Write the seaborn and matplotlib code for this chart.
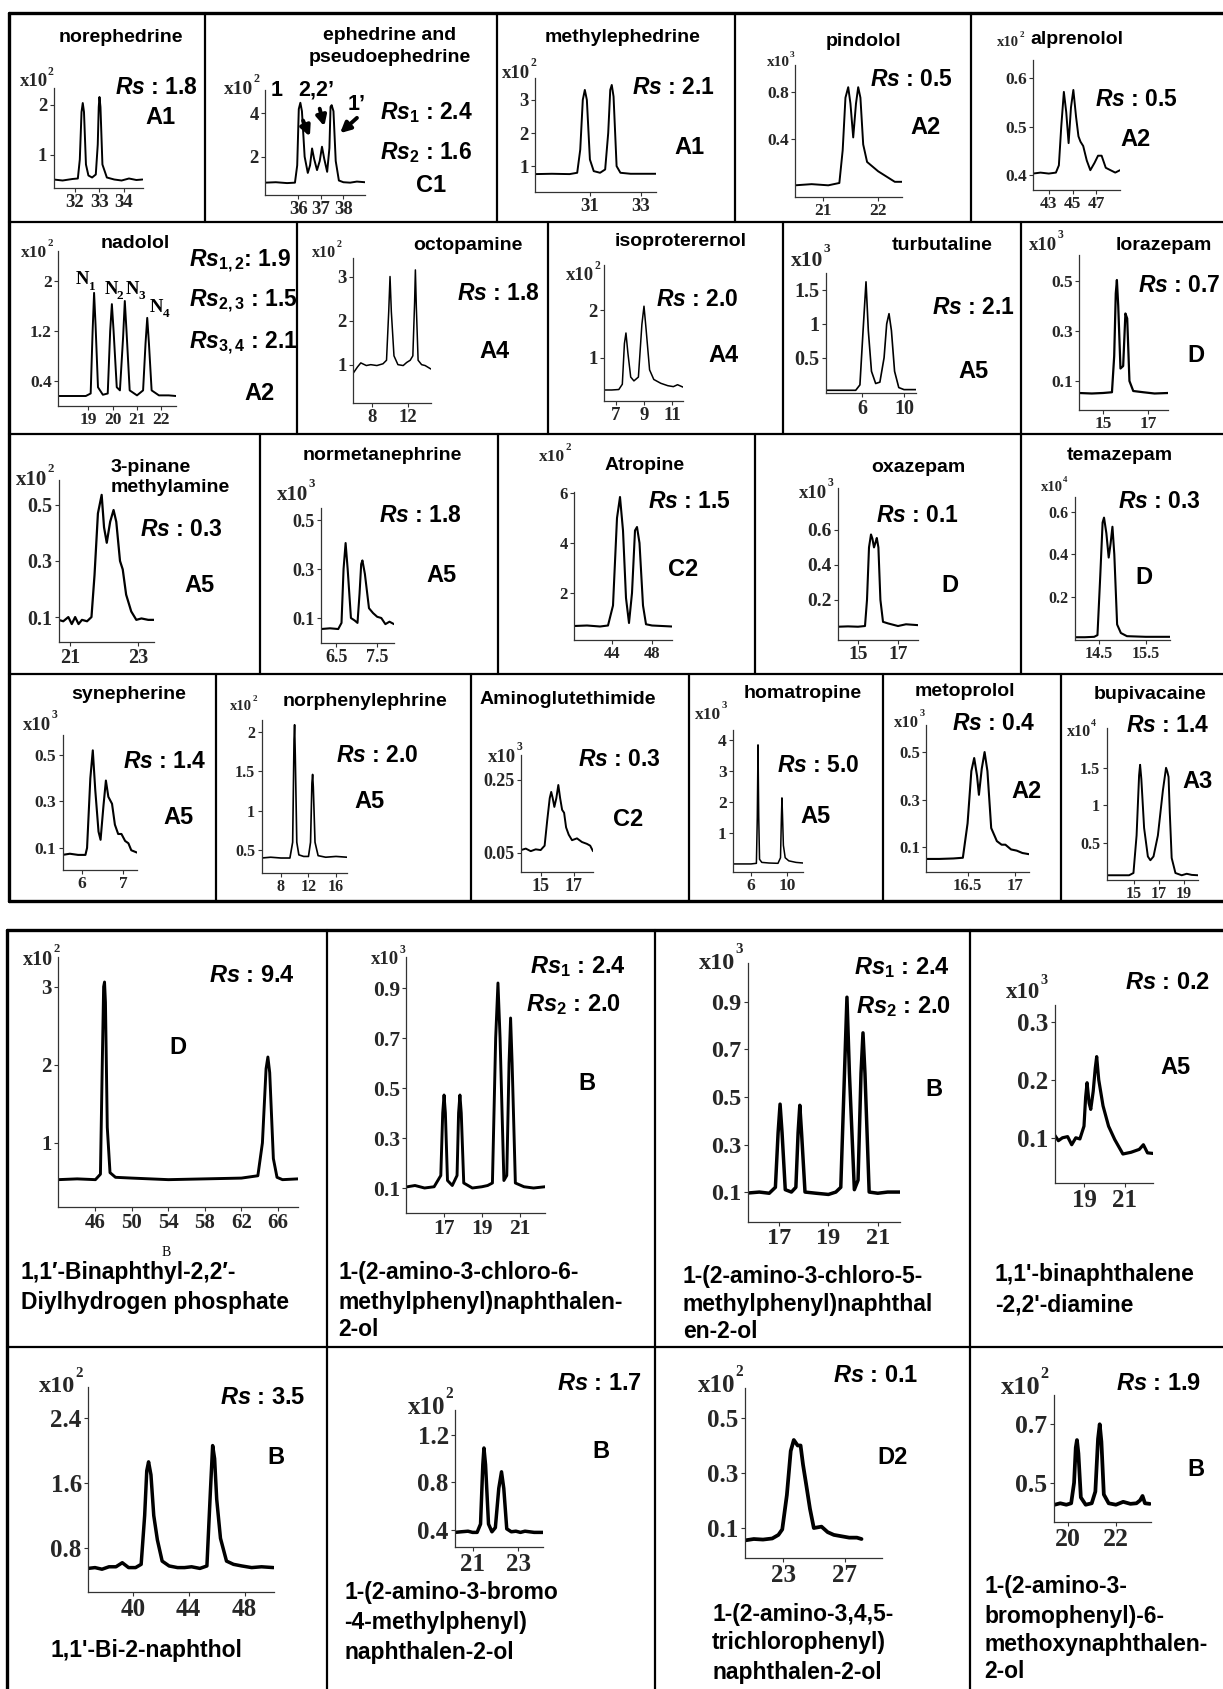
import matplotlib
matplotlib.use("Agg")
import matplotlib.pyplot as plt
import seaborn as sns
from matplotlib.lines import Line2D
from matplotlib.patches import FancyArrowPatch
from matplotlib.ticker import AutoMinorLocator

W, H = 1223, 1689

# chromatogram traces: retention time (min) and signal

nore_t = [31.13, 31.5, 31.9, 32.12, 32.2, 32.27, 32.32, 32.37, 32.45, 32.55, 32.7, 32.85, 32.93, 32.97, 33.0, 33.04, 33.12, 33.3, 33.6, 33.9, 34.2, 34.5, 34.75]
nore_y = [0.5, 0.48, 0.51, 0.52, 0.9, 1.85, 2.03, 1.85, 0.8, 0.58, 0.54, 0.6, 1.2, 1.95, 2.15, 1.95, 0.8, 0.54, 0.5, 0.48, 0.52, 0.49, 0.5]
nore_xt = ["32", "33", "34"]
nore_yt = ["1", "2"]

ephe_t = [34.52, 35.0, 35.5, 35.85, 35.95, 36.02, 36.09, 36.16, 36.28, 36.42, 36.52, 36.61, 36.7, 36.83, 36.95, 37.05, 37.15, 37.28, 37.38, 37.43, 37.48, 37.56, 37.66, 37.8, 38.0, 38.3, 38.6, 38.96]
ephe_y = [0.8, 0.82, 0.78, 0.8, 1.6, 4.2, 4.49, 4.1, 2.0, 1.25, 1.6, 2.38, 1.9, 1.38, 1.8, 2.46, 1.9, 1.3, 2.4, 4.3, 4.38, 4.1, 1.8, 0.9, 0.82, 0.8, 0.85, 0.82]
ephe_xt = ["36", "37", "38"]
ephe_yt = ["2", "4"]

meth_t = [28.84, 29.5, 30.2, 30.5, 30.62, 30.72, 30.8, 30.88, 31.0, 31.15, 31.4, 31.6, 31.72, 31.8, 31.86, 31.93, 32.05, 32.2, 32.6, 33.0, 33.6]
meth_y = [0.76, 0.77, 0.76, 0.8, 1.5, 3.0, 3.3, 3.0, 1.2, 0.85, 0.8, 0.9, 2.0, 3.3, 3.45, 3.1, 1.0, 0.8, 0.77, 0.77, 0.77]
meth_xt = ["31", "33"]
meth_yt = ["1", "2", "3"]

pind_t = [20.5, 20.8, 21.1, 21.3, 21.36, 21.41, 21.46, 21.5, 21.55, 21.6, 21.64, 21.68, 21.73, 21.8, 21.9, 22.0, 22.1, 22.2, 22.3, 22.43]
pind_y = [0.0, 0.01, 0.0, 0.02, 0.3, 0.75, 0.84, 0.7, 0.41, 0.7, 0.84, 0.75, 0.35, 0.2, 0.16, 0.12, 0.09, 0.06, 0.03, 0.03]
pind_xt = ["21", "22"]
pind_yt = ["0.4", "0.8"]

alpr_t = [41.67, 42.3, 43.0, 43.6, 43.85, 44.05, 44.27, 44.47, 44.67, 44.87, 45.07, 45.3, 45.5, 45.67, 45.9, 46.2, 46.5, 46.85, 47.15, 47.45, 47.8, 48.2, 48.6, 49.0]
alpr_y = [0.403, 0.405, 0.403, 0.405, 0.42, 0.5, 0.572, 0.53, 0.466, 0.54, 0.576, 0.52, 0.48, 0.469, 0.46, 0.43, 0.41, 0.425, 0.44, 0.44, 0.415, 0.41, 0.405, 0.41]
alpr_xt = ["43", "45", "47"]
alpr_yt = ["0.4", "0.5", "0.6"]

nado_t = [17.76, 18.3, 18.9, 19.1, 19.18, 19.24, 19.3, 19.4, 19.6, 19.8, 19.9, 19.97, 20.04, 20.17, 20.3, 20.43, 20.5, 20.57, 20.7, 21.0, 21.25, 21.35, 21.42, 21.49, 21.6, 21.9, 22.3, 22.6]
nado_y = [0.16, 0.16, 0.16, 0.2, 1.2, 1.81, 1.3, 0.3, 0.18, 0.2, 1.2, 1.63, 1.2, 0.3, 0.25, 1.1, 1.68, 1.2, 0.25, 0.17, 0.25, 1.0, 1.41, 1.0, 0.25, 0.17, 0.17, 0.16]
nado_xt = ["19", "20", "21", "22"]
nado_yt = ["0.4", "1.2", "2"]

octo_t = [5.78, 6.3, 6.67, 7.3, 7.8, 8.5, 9.2, 9.6, 9.85, 10.0, 10.15, 10.45, 10.9, 11.5, 11.9, 12.3, 12.6, 12.8, 12.89, 13.0, 13.2, 13.6, 14.0, 14.67]
octo_y = [0.8, 0.95, 1.04, 0.98, 1.0, 0.98, 1.02, 1.1, 2.2, 3.0, 2.2, 1.2, 1.0, 0.98, 1.05, 1.1, 1.2, 2.4, 3.15, 2.3, 1.1, 1.0, 0.98, 0.9]
octo_xt = ["8", "12"]
octo_yt = ["1", "2", "3"]

isop_t = [6.14, 6.7, 7.2, 7.45, 7.6, 7.71, 7.85, 8.05, 8.28, 8.6, 8.85, 9.0, 9.15, 9.4, 9.7, 10.2, 10.7, 11.1, 11.4, 11.79]
isop_y = [0.33, 0.33, 0.34, 0.45, 1.3, 1.52, 1.1, 0.6, 0.52, 0.6, 1.7, 2.08, 1.6, 0.75, 0.55, 0.47, 0.42, 0.4, 0.44, 0.39]
isop_xt = ["7", "9", "11"]
isop_yt = ["1", "2"]

turb_t = [2.57, 4.0, 5.4, 5.8, 6.1, 6.38, 6.6, 6.9, 7.3, 7.7, 8.1, 8.35, 8.57, 8.8, 9.1, 9.5, 10.0, 11.14]
turb_y = [0.02, 0.02, 0.02, 0.1, 0.9, 1.62, 0.9, 0.3, 0.12, 0.14, 0.5, 1.0, 1.15, 0.9, 0.3, 0.06, 0.03, 0.03]
turb_xt = ["6", "10"]
turb_yt = ["0.5", "1", "1.5"]

lora_t = [13.93, 14.5, 15.0, 15.4, 15.5, 15.57, 15.62, 15.68, 15.78, 15.9, 16.0, 16.08, 16.18, 16.35, 16.8, 17.3, 17.9]
lora_y = [0.052, 0.05, 0.052, 0.055, 0.2, 0.45, 0.504, 0.4, 0.15, 0.16, 0.37, 0.35, 0.1, 0.06, 0.055, 0.05, 0.052]
lora_xt = ["15", "17"]
lora_yt = ["0.1", "0.3", "0.5"]

pina_t = [20.66, 20.8, 20.95, 21.05, 21.15, 21.25, 21.35, 21.5, 21.63, 21.72, 21.82, 21.93, 22.0, 22.08, 22.18, 22.28, 22.36, 22.47, 22.55, 22.65, 22.8, 22.95, 23.1, 23.3, 23.47]
pina_y = [0.09, 0.085, 0.1, 0.075, 0.1, 0.075, 0.09, 0.085, 0.1, 0.25, 0.47, 0.536, 0.42, 0.365, 0.44, 0.482, 0.44, 0.3, 0.27, 0.18, 0.12, 0.09, 0.095, 0.09, 0.09]
pina_xt = ["21", "23"]
pina_yt = ["0.1", "0.3", "0.5"]

norm_t = [6.13, 6.35, 6.55, 6.63, 6.68, 6.73, 6.78, 6.86, 6.95, 7.02, 7.07, 7.11, 7.14, 7.2, 7.3, 7.4, 7.5, 7.6, 7.7, 7.8, 7.91]
norm_y = [0.055, 0.058, 0.055, 0.08, 0.3, 0.406, 0.3, 0.1, 0.09, 0.08, 0.2, 0.32, 0.335, 0.28, 0.14, 0.12, 0.105, 0.1, 0.075, 0.085, 0.075]
norm_xt = ["6.5", "7.5"]
norm_yt = ["0.1", "0.3", "0.5"]

atro_t = [40.2, 41.5, 42.8, 43.6, 44.1, 44.5, 44.8, 45.1, 45.4, 45.7, 46.0, 46.3, 46.5, 46.75, 47.1, 47.4, 48.0, 49.0, 50.0]
atro_y = [0.68, 0.7, 0.66, 0.7, 1.5, 5.0, 5.84, 4.5, 1.8, 0.8, 2.0, 4.5, 4.64, 4.0, 1.5, 0.75, 0.7, 0.68, 0.66]
atro_xt = ["44", "48"]
atro_yt = ["2", "4", "6"]

oxaz_t = [14.0, 14.5, 15.0, 15.35, 15.45, 15.55, 15.65, 15.72, 15.8, 15.88, 15.94, 16.02, 16.12, 16.25, 16.5, 17.0, 17.4, 18.0]
oxaz_y = [0.046, 0.048, 0.046, 0.05, 0.2, 0.5, 0.574, 0.55, 0.5, 0.53, 0.554, 0.5, 0.2, 0.074, 0.065, 0.05, 0.06, 0.055]
oxaz_xt = ["15", "17"]
oxaz_yt = ["0.2", "0.4", "0.6"]

tema_t = [13.99, 14.2, 14.4, 14.47, 14.53, 14.58, 14.61, 14.66, 14.71, 14.75, 14.79, 14.83, 14.89, 14.97, 15.1, 15.5, 16.02]
tema_y = [0.01, 0.01, 0.012, 0.02, 0.3, 0.55, 0.573, 0.5, 0.385, 0.45, 0.53, 0.4, 0.07, 0.03, 0.015, 0.012, 0.012]
tema_xt = ["14.5", "15.5"]
tema_yt = ["0.2", "0.4", "0.6"]

syne_t = [5.52, 5.7, 5.9, 6.08, 6.12, 6.2, 6.26, 6.32, 6.4, 6.45, 6.52, 6.58, 6.64, 6.73, 6.8, 6.88, 6.96, 7.05, 7.13, 7.2, 7.34]
syne_y = [0.07, 0.075, 0.07, 0.07, 0.1, 0.4, 0.52, 0.35, 0.17, 0.135, 0.28, 0.39, 0.32, 0.29, 0.2, 0.16, 0.16, 0.13, 0.12, 0.09, 0.08]
syne_xt = ["6", "7"]
syne_yt = ["0.1", "0.3", "0.5"]

norp_t = [5.17, 6.5, 8.0, 9.3, 9.7, 9.9, 9.98, 10.08, 10.3, 10.6, 11.3, 12.0, 12.3, 12.5, 12.6, 12.7, 12.95, 13.4, 14.5, 16.0, 17.6]
norp_y = [0.4, 0.41, 0.4, 0.4, 0.6, 1.9, 2.09, 1.7, 0.6, 0.44, 0.42, 0.42, 0.6, 1.35, 1.46, 1.3, 0.6, 0.43, 0.41, 0.42, 0.41]
norp_xt = ["8", "12", "16"]
norp_yt = ["0.5", "1", "1.5", "2"]

amin_t = [13.81, 14.1, 14.4, 14.7, 15.0, 15.24, 15.4, 15.55, 15.64, 15.73, 15.83, 15.95, 16.07, 16.18, 16.3, 16.42, 16.54, 16.7, 16.9, 17.2, 17.5, 17.8, 18.0, 18.17]
amin_y = [0.058, 0.062, 0.055, 0.06, 0.058, 0.07, 0.14, 0.2, 0.217, 0.2, 0.176, 0.2, 0.236, 0.2, 0.168, 0.16, 0.12, 0.1, 0.085, 0.09, 0.08, 0.075, 0.07, 0.055]
amin_xt = ["15", "17"]
amin_yt = ["0.05", "0.25"]

homa_t = [4.0, 5.0, 6.0, 6.6, 6.7, 6.78, 6.86, 6.95, 7.2, 8.0, 9.0, 9.28, 9.38, 9.44, 9.5, 9.6, 9.8, 10.2, 11.0, 11.78]
homa_y = [0.0, 0.0, 0.0, 0.02, 1.5, 3.84, 1.5, 0.15, 0.05, 0.03, 0.02, 0.2, 1.5, 2.13, 1.6, 0.6, 0.2, 0.1, 0.05, 0.03]
homa_xt = ["6", "10"]
homa_yt = ["1", "2", "3", "4"]

meto_t = [16.06, 16.2, 16.35, 16.45, 16.5, 16.54, 16.57, 16.6, 16.62, 16.65, 16.68, 16.71, 16.75, 16.81, 16.86, 16.9, 16.96, 17.02, 17.08, 17.15]
meto_y = [0.05, 0.05, 0.052, 0.055, 0.2, 0.42, 0.475, 0.4, 0.32, 0.43, 0.5, 0.42, 0.18, 0.125, 0.11, 0.11, 0.09, 0.085, 0.075, 0.07]
meto_xt = ["16.5", "17"]
meto_yt = ["0.1", "0.3", "0.5"]

bupi_t = [12.8, 13.8, 14.6, 14.95, 15.2, 15.4, 15.48, 15.58, 15.8, 16.1, 16.3, 16.55, 16.9, 17.3, 17.55, 17.65, 17.75, 17.85, 18.0, 18.3, 18.8, 19.2, 19.6, 20.1]
bupi_y = [0.07, 0.07, 0.07, 0.1, 0.6, 1.4, 1.54, 1.35, 0.7, 0.32, 0.27, 0.32, 0.6, 1.2, 1.5, 1.45, 1.38, 0.9, 0.3, 0.1, 0.07, 0.09, 0.075, 0.07]
bupi_xt = ["15", "17", "19"]
bupi_yt = ["0.5", "1", "1.5"]

# lower block (axially chiral compounds)

bnph_t = [41.9, 44.0, 46.0, 46.55, 46.75, 46.9, 47.0, 47.1, 47.3, 47.6, 48.2, 50.0, 54.0, 58.0, 62.0, 63.8, 64.3, 64.7, 64.9, 65.1, 65.5, 65.9, 66.5, 68.2]
bnph_y = [0.53, 0.54, 0.53, 0.6, 2.0, 3.0, 3.06, 2.8, 1.2, 0.62, 0.56, 0.55, 0.53, 0.54, 0.55, 0.58, 1.0, 1.95, 2.1, 1.9, 0.8, 0.56, 0.53, 0.54]
bnph_xt = ["46", "50", "54", "58", "62", "66"]
bnph_yt = ["1", "2", "3"]

cl6_t = [15.03, 15.5, 16.0, 16.5, 16.85, 16.95, 17.02, 17.09, 17.2, 17.45, 17.7, 17.78, 17.85, 17.92, 18.05, 18.5, 19.0, 19.3, 19.55, 19.72, 19.84, 19.95, 20.15, 20.3, 20.42, 20.5, 20.58, 20.75, 21.2, 21.7, 22.3]
cl6_y = [0.104, 0.11, 0.1, 0.105, 0.15, 0.4, 0.472, 0.4, 0.13, 0.11, 0.15, 0.4, 0.472, 0.4, 0.12, 0.1, 0.105, 0.11, 0.12, 0.7, 0.92, 0.7, 0.13, 0.15, 0.6, 0.78, 0.6, 0.12, 0.105, 0.1, 0.105]
cl6_xt = ["17", "19", "21"]
cl6_yt = ["0.1", "0.3", "0.5", "0.7", "0.9"]

cl5_t = [15.74, 16.2, 16.6, 16.85, 16.96, 17.04, 17.12, 17.25, 17.5, 17.68, 17.77, 17.84, 17.91, 18.05, 18.5, 19.0, 19.3, 19.5, 19.65, 19.75, 19.85, 20.05, 20.2, 20.32, 20.4, 20.48, 20.65, 21.0, 21.4, 21.9]
cl5_y = [0.096, 0.1, 0.095, 0.12, 0.35, 0.47, 0.35, 0.11, 0.1, 0.12, 0.35, 0.465, 0.35, 0.1, 0.095, 0.09, 0.1, 0.12, 0.6, 0.92, 0.6, 0.11, 0.15, 0.6, 0.77, 0.6, 0.1, 0.095, 0.1, 0.1]
cl5_xt = ["17", "19", "21"]
cl5_yt = ["0.1", "0.3", "0.5", "0.7", "0.9"]

diam_t = [17.56, 17.75, 17.95, 18.2, 18.4, 18.6, 18.8, 19.0, 19.08, 19.15, 19.25, 19.33, 19.45, 19.55, 19.62, 19.72, 19.93, 20.2, 20.5, 20.9, 21.3, 21.7, 21.9, 22.1, 22.37]
diam_y = [0.105, 0.095, 0.1, 0.102, 0.088, 0.1, 0.098, 0.12, 0.17, 0.195, 0.16, 0.149, 0.18, 0.22, 0.24, 0.2, 0.155, 0.12, 0.097, 0.072, 0.075, 0.08, 0.088, 0.074, 0.073]
diam_xt = ["19", "21"]
diam_yt = ["0.1", "0.2", "0.3"]

binl_t = [36.8, 37.3, 37.8, 38.3, 38.8, 39.25, 39.7, 40.2, 40.6, 40.85, 41.0, 41.13, 41.3, 41.5, 41.76, 42.1, 42.6, 43.2, 43.7, 44.2, 44.8, 45.3, 45.55, 45.71, 45.85, 46.0, 46.27, 46.7, 47.2, 47.8, 48.5, 49.2, 50.06]
binl_y = [0.55, 0.56, 0.54, 0.57, 0.57, 0.62, 0.56, 0.56, 0.6, 1.2, 1.75, 1.86, 1.7, 1.2, 0.9, 0.64, 0.58, 0.56, 0.56, 0.57, 0.55, 0.58, 1.5, 2.06, 1.9, 1.4, 0.92, 0.64, 0.6, 0.58, 0.56, 0.57, 0.56]
binl_xt = ["40", "44", "48"]
binl_yt = ["0.8", "1.6", "2.4"]

br4_t = [20.23, 20.5, 20.8, 21.0, 21.2, 21.35, 21.45, 21.5, 21.57, 21.7, 21.85, 22.0, 22.15, 22.27, 22.37, 22.5, 22.7, 22.9, 23.1, 23.3, 23.5, 23.7, 24.09]
br4_y = [0.38, 0.385, 0.39, 0.38, 0.38, 0.45, 0.95, 1.09, 0.95, 0.45, 0.385, 0.42, 0.75, 0.89, 0.75, 0.41, 0.385, 0.39, 0.38, 0.39, 0.385, 0.38, 0.38]
br4_xt = ["21", "23"]
br4_yt = ["0.4", "0.8", "1.2"]

tcl_t = [20.53, 21.1, 21.7, 22.3, 22.7, 22.95, 23.25, 23.5, 23.7, 23.95, 24.14, 24.3, 24.5, 24.75, 25.0, 25.5, 25.9, 26.3, 26.8, 27.3, 27.8, 28.1]
tcl_y = [0.055, 0.06, 0.058, 0.062, 0.075, 0.095, 0.22, 0.38, 0.42, 0.4, 0.4, 0.33, 0.26, 0.17, 0.1, 0.105, 0.085, 0.075, 0.07, 0.065, 0.065, 0.06]
tcl_xt = ["23", "27"]
tcl_yt = ["0.1", "0.3", "0.5"]

mox_t = [19.42, 19.7, 19.95, 20.15, 20.27, 20.34, 20.39, 20.45, 20.55, 20.75, 21.0, 21.15, 21.26, 21.33, 21.4, 21.5, 21.7, 22.0, 22.3, 22.6, 22.85, 23.0, 23.1, 23.2, 23.4]
mox_y = [0.424, 0.43, 0.425, 0.43, 0.5, 0.62, 0.646, 0.6, 0.45, 0.425, 0.43, 0.47, 0.65, 0.7, 0.64, 0.46, 0.43, 0.425, 0.435, 0.428, 0.43, 0.44, 0.455, 0.43, 0.428]
mox_xt = ["20", "22"]
mox_yt = ["0.5", "0.7"]

sns.set_theme(style="white")
plt.rcParams["font.family"] = ["Liberation Sans", "DejaVu Sans"]
plt.rcParams["mathtext.fontset"] = "custom"
plt.rcParams["mathtext.rm"] = "Liberation Sans:bold"
plt.rcParams["mathtext.it"] = "Liberation Sans:italic:bold"
plt.rcParams["mathtext.bf"] = "Liberation Sans:bold"

SERIF = ["Liberation Serif", "DejaVu Serif"]

fig = plt.figure(figsize=(W / 100, H / 100), dpi=100)


def fx(px):
    return px / W


def fy(py):
    return 1 - py / H


# panel boxes: (t, y, xticks, yticks, axes box in px (l, top, r, bottom), xlim, ylim, tick size, line width)
panels = [
    (nore_t, nore_y, nore_xt, nore_yt, (53.5, 88, 142.5, 188), (31.13, 34.75), (0.33, 2.33), 13.5, 1.4),
    (ephe_t, ephe_y, ephe_xt, ephe_yt, (265, 90, 365, 195), (34.52, 38.96), (0.23, 5.08), 13.5, 1.4),
    (meth_t, meth_y, meth_xt, meth_yt, (535, 78, 656, 192), (28.84, 33.6), (0.22, 3.66), 13.5, 1.4),
    (pind_t, pind_y, pind_xt, pind_yt, (795, 65, 902, 197), (20.5, 22.43), (-0.1, 1.03), 12.5, 1.4),
    (alpr_t, alpr_y, alpr_xt, alpr_yt, (1033, 60, 1120, 190), (41.67, 49.0), (0.369, 0.638), 12.5, 1.4),
    (nado_t, nado_y, nado_xt, nado_yt, (58, 251, 176, 406), (17.76, 22.6), (0.0, 2.48), 12.5, 1.4),
    (octo_t, octo_y, octo_xt, octo_yt, (353, 258, 431, 403), (5.78, 14.67), (0.13, 3.42), 13.5, 1.1),
    (isop_t, isop_y, isop_xt, isop_yt, (604, 265, 683, 401), (6.14, 11.79), (0.1, 2.94), 13.5, 1.1),
    (turb_t, turb_y, turb_xt, turb_yt, (826, 273, 916, 393), (2.57, 11.14), (-0.02, 1.75), 14.5, 1.2),
    (lora_t, lora_y, lora_xt, lora_yt, (1079, 255, 1168, 410), (13.93, 17.9), (-0.016, 0.604), 12.5, 1.6),
    (pina_t, pina_y, pina_xt, pina_yt, (58.5, 480, 154, 642), (20.66, 23.47), (0.011, 0.589), 14.5, 1.6),
    (norm_t, norm_y, norm_xt, norm_yt, (321, 508, 394, 643), (6.13, 7.91), (-0.002, 0.549), 13, 1.5),
    (atro_t, atro_y, atro_xt, atro_yt, (574, 492, 672, 640), (40.2, 50.0), (0.12, 6.04), 12, 1.5),
    (oxaz_t, oxaz_y, oxaz_xt, oxaz_yt, (838, 488, 918, 640), (14.0, 18.0), (-0.03, 0.84), 14, 1.5),
    (tema_t, tema_y, tema_xt, tema_yt, (1075, 497, 1170, 640), (13.99, 16.02), (-0.003, 0.67), 11.5, 1.5),
    (syne_t, syne_y, syne_xt, syne_yt, (62.5, 735, 137, 870), (5.52, 7.34), (0.005, 0.586), 12.5, 1.5),
    (norp_t, norp_y, norp_xt, norp_yt, (261.5, 720, 347, 873), (5.17, 17.6), (0.21, 2.15), 11.5, 1.2),
    (amin_t, amin_y, amin_xt, amin_yt, (521, 755, 593, 872), (13.81, 18.17), (-0.002, 0.318), 13, 1.4),
    (homa_t, homa_y, homa_xt, homa_yt, (733, 730, 803, 872), (4.0, 11.78), (-0.26, 4.32), 12.5, 1.1),
    (meto_t, meto_y, meto_xt, meto_yt, (926, 725, 1029, 872), (16.06, 17.15), (-0.005, 0.614), 12, 1.5),
    (bupi_t, bupi_y, bupi_xt, bupi_yt, (1106.5, 728, 1198, 880), (12.8, 20.1), (0.007, 2.03), 11.5, 1.4),
    (bnph_t, bnph_y, bnph_xt, bnph_yt, (58, 957, 298, 1207), (41.9, 68.2), (0.18, 3.38), 15, 2.1),
    (cl6_t, cl6_y, cl6_xt, cl6_yt, (406, 957, 545, 1213), (15.03, 22.3), (0.0, 1.024), 15.5, 2.1),
    (cl5_t, cl5_y, cl5_xt, cl5_yt, (748, 963, 900, 1222), (15.74, 21.9), (-0.026, 1.064), 17.5, 2.5),
    (diam_t, diam_y, diam_xt, diam_yt, (1054.5, 1005, 1153, 1183), (17.56, 22.37), (0.022, 0.329), 18, 2.3),
    (binl_t, binl_y, binl_xt, binl_yt, (88, 1387, 273.5, 1592), (36.8, 50.06), (0.26, 2.78), 18, 2.5),
    (br4_t, br4_y, br4_xt, br4_yt, (455, 1410, 543, 1547), (20.23, 24.09), (0.257, 1.41), 18, 2.5),
    (tcl_t, tcl_y, tcl_xt, tcl_yt, (745, 1388, 882, 1558), (20.53, 29.43), (-0.009, 0.609), 18, 2.7),
    (mox_t, mox_y, mox_xt, mox_yt, (1053.5, 1395, 1151, 1522), (19.42, 23.45), (0.366, 0.80), 18.5, 2.7),
]

for t, y, xt, yt, box, xlim, ylim, fs, lw in panels:
    l, top, r, b = box
    ax = fig.add_axes([fx(l), fy(b), (r - l) / W, (b - top) / H])
    ax.patch.set_alpha(0)
    sns.lineplot(x=t, y=y, ax=ax, color="black", linewidth=lw, sort=False, estimator=None)
    ax.set_xlim(*xlim)
    ax.set_ylim(*ylim)
    ax.set_xticks([float(v) for v in xt], xt, fontfamily=SERIF, fontweight="bold", fontsize=fs)
    ax.set_yticks([float(v) for v in yt], yt, fontfamily=SERIF, fontweight="bold", fontsize=fs)
    ax.xaxis.set_minor_locator(AutoMinorLocator(2))
    ax.yaxis.set_minor_locator(AutoMinorLocator(4))
    ax.tick_params(which="major", length=3, width=0.8, pad=1.5, direction="out", color="#333333")
    ax.tick_params(which="minor", length=1.8, width=0.6, direction="out", color="#333333")
    ax.tick_params(axis="x", bottom=True)
    ax.tick_params(axis="y", left=True)
    for side in ["top", "right"]:
        ax.spines[side].set_visible(False)
    for side in ["left", "bottom"]:
        ax.spines[side].set_color("#333333")
        ax.spines[side].set_linewidth(0.9)
    ax.set_xlabel("")
    ax.set_ylabel("")

# frame lines of the two blocks
thick, thin = 2.4, 1.6
hlines = [(13, 9, W, thick), (222, 9, W, thin), (434, 9, W, thin), (674, 9, W, thin), (901, 9, W, thick),
          (930, 7, W, thick), (1347, 7, W, thin)]
for yy, x0, x1, lwd in hlines:
    fig.add_artist(Line2D([fx(x0), fx(x1)], [fy(yy), fy(yy)], color="black", lw=lwd))
vlines = [(9, 13, 901, thick), (7, 930, H, thick)]
for xx in [205, 497, 735, 971]:
    vlines.append((xx, 13, 222, thin))
for xx in [297, 548, 783, 1021]:
    vlines.append((xx, 222, 434, thin))
for xx in [260, 498, 755, 1021]:
    vlines.append((xx, 434, 674, thin))
for xx in [216, 471, 689, 883, 1061]:
    vlines.append((xx, 674, 901, thin))
for xx in [327, 655, 970]:
    vlines.append((xx, 930, H, thin))
for xx, y0, y1, lwd in vlines:
    fig.add_artist(Line2D([fx(xx), fx(xx)], [fy(y0), fy(y1)], color="black", lw=lwd))


def rs(val, sub=None, gap=" "):
    if sub is None:
        return r"$\mathit{Rs}$ : " + val
    return r"$\mathit{Rs}_{\mathrm{" + sub + "}}$" + gap + ": " + val


styles = {
    "title": dict(fontsize=14, fontweight="bold", ha="center"),
    "title_l": dict(fontsize=14, fontweight="bold", ha="left"),
    "rs": dict(fontsize=16.5, fontweight="bold", ha="left"),
    "rs_b": dict(fontsize=17, fontweight="bold", ha="left"),
    "meth": dict(fontsize=17, fontweight="bold", ha="center"),
    "name": dict(fontsize=16.5, fontweight="bold", ha="left"),
    "lab": dict(fontsize=15.5, fontweight="bold", ha="center"),
    "nlab": dict(fontsize=13.5, fontweight="bold", ha="center", fontfamily=SERIF),
    "nsub": dict(fontsize=9.5, fontweight="bold", ha="center", fontfamily=SERIF),
    "tiny": dict(fontsize=10, ha="center", fontfamily=SERIF),
}

# (x px, y px, text, style)
texts = [
    (121, 37, "norephedrine", "title"), (115, 87, rs("1.8"), "rs"), (160, 117, "A1", "meth"),
    (390, 35, "ephedrine and", "title"), (390, 57, "pseudoephedrine", "title"),
    (277, 90, "1", "lab"), (316, 90, "2,2\u2019", "lab"), (357, 105, "1\u2019", "lab"),
    (380, 113, rs("2.4", "1"), "rs"), (380, 153, rs("1.6", "2"), "rs"), (431, 185, "C1", "meth"),
    (623, 38, "methylephedrine", "title"), (632, 88, rs("2.1"), "rs"), (689, 147, "A1", "meth"),
    (864, 42, "pindolol", "title"), (870, 80, rs("0.5"), "rs"), (926, 128, "A2", "meth"),
    (1077, 40, "alprenolol", "title"), (1095, 100, rs("0.5"), "rs"), (1136, 140, "A2", "meth"),
    (135, 243, "nadolol", "title"), (189, 261, rs("1.9", "1,2", ""), "rs"),
    (189, 301, rs("1.5", "2,3"), "rs"), (189, 343, rs("2.1", "3,4"), "rs"), (260, 393, "A2", "meth"),
    (82, 280, "N", "nlab"), (92, 287, "1", "nsub"), (111, 290, "N", "nlab"), (120, 296, "2", "nsub"),
    (132, 290, "N", "nlab"), (142, 296, "3", "nsub"), (156, 308, "N", "nlab"), (166, 314, "4", "nsub"),
    (468, 245, "octopamine", "title"), (457, 293, rs("1.8"), "rs"), (494, 351, "A4", "meth"),
    (681, 241, "isoproterernol", "title"), (656, 300, rs("2.0"), "rs"), (723, 355, "A4", "meth"),
    (942, 246, "turbutaline", "title"), (932, 308, rs("2.1"), "rs"), (973, 371, "A5", "meth"),
    (1164, 245, "lorazepam", "title"), (1138, 286, rs("0.7"), "rs"), (1196, 355, "D", "meth"),
    (111, 467, "3-pinane", "title_l"), (111, 488, "methylamine", "title_l"),
    (140, 530, rs("0.3"), "rs"), (199, 585, "A5", "meth"),
    (382, 455, "normetanephrine", "title"), (379, 515, rs("1.8"), "rs"), (441, 575, "A5", "meth"),
    (645, 465, "Atropine", "title"), (648, 502, rs("1.5"), "rs"), (683, 570, "C2", "meth"),
    (918, 467, "oxazepam", "title"), (876, 515, rs("0.1"), "rs"), (950, 585, "D", "meth"),
    (1120, 455, "temazepam", "title"), (1118, 502, rs("0.3"), "rs"), (1144, 577, "D", "meth"),
    (129, 695, "synepherine", "title"), (123, 762, rs("1.4"), "rs"), (178, 818, "A5", "meth"),
    (365, 702, "norphenylephrine", "title"), (336, 755, rs("2.0"), "rs"), (369, 802, "A5", "meth"),
    (568, 700, "Aminoglutethimide", "title"), (578, 760, rs("0.3"), "rs"), (628, 820, "C2", "meth"),
    (803, 693, "homatropine", "title"), (777, 765, rs("5.0"), "rs"), (815, 817, "A5", "meth"),
    (965, 692, "metoprolol", "title"), (952, 723, rs("0.4"), "rs"), (1027, 792, "A2", "meth"),
    (1150, 695, "bupivacaine", "title"), (1126, 725, rs("1.4"), "rs"), (1198, 782, "A3", "meth"),
    (209, 975, rs("9.4"), "rs_b"), (178, 1047, "D", "meth"), (166, 1252, "B", "tiny"),
    (21, 1273, "1,1\u2032-Binaphthyl-2,2\u2032-", "name"), (21, 1302, "Diylhydrogen phosphate", "name"),
    (530, 967, rs("2.4", "1"), "rs_b"), (526, 1005, rs("2.0", "2"), "rs_b"), (587, 1083, "B", "meth"),
    (338, 1272, "1-(2-amino-3-chloro-6-", "name"), (338, 1302, "methylphenyl)naphthalen-", "name"),
    (338, 1329, "2-ol", "name"),
    (854, 968, rs("2.4", "1"), "rs_b"), (856, 1007, rs("2.0", "2"), "rs_b"), (934, 1090, "B", "meth"),
    (683, 1277, "1-(2-amino-3-chloro-5-", "name"), (683, 1305, "methylphenyl)naphthal", "name"),
    (683, 1332, "en-2-ol", "name"),
    (1125, 983, rs("0.2"), "rs_b"), (1175, 1068, "A5", "meth"),
    (995, 1275, "1,1'-binaphthalene", "name"), (995, 1305, "-2,2'-diamine", "name"),
    (220, 1397, rs("3.5"), "rs_b"), (276, 1457, "B", "meth"), (50, 1650, "1,1'-Bi-2-naphthol", "name"),
    (557, 1383, rs("1.7"), "rs_b"), (601, 1452, "B", "meth"),
    (344, 1593, "1-(2-amino-3-bromo", "name"), (344, 1623, "-4-methylphenyl)", "name"),
    (344, 1653, "naphthalen-2-ol", "name"),
    (833, 1375, rs("0.1"), "rs_b"), (893, 1458, "D2", "meth"),
    (712, 1615, "1-(2-amino-3,4,5-", "name"), (712, 1643, "trichlorophenyl)", "name"),
    (712, 1672, "naphthalen-2-ol", "name"),
    (1116, 1383, rs("1.9"), "rs_b"), (1196, 1470, "B", "meth"),
    (984, 1587, "1-(2-amino-3-", "name"), (984, 1617, "bromophenyl)-6-", "name"),
    (984, 1645, "methoxynaphthalen-", "name"), (984, 1672, "2-ol", "name"),
]

for x, y, s, st in texts:
    fig.text(fx(x), fy(y), s, va="center", color="black", **styles[st])

# signal multipliers "x10^n": (x of x10, y, exponent, size)
mults = [
    (19.5, 82, "2", 13.5), (224, 90, "2", 14), (502, 73, "2", 13.5), (767, 63, "3", 11),
    (997, 43, "2", 10.5), (21, 253, "2", 12.5), (312, 253, "2", 11.5), (566, 276, "2", 13.5),
    (791, 261, "3", 15.5), (1029, 245, "3", 13.5), (16, 480, "2", 15), (277, 495, "3", 15),
    (539, 457, "2", 12.5), (799, 493, "3", 13.5), (1041, 488, "4", 10.5), (23, 725, "3", 13.5),
    (230, 707, "2", 10.5), (488, 757, "3", 13.5), (695, 715, "3", 12.5), (894, 723, "3", 12),
    (1067, 732, "4", 11.5), (23, 960, "2", 14.5), (371, 960, "3", 13.5), (699, 963, "3", 17.5),
    (1006, 993, "3", 16.5), (39, 1387, "2", 17.5), (408, 1407, "2", 18), (698, 1385, "2", 18),
    (1001, 1388, "2", 19),
]
for x, y, e, size in mults:
    fig.text(fx(x), fy(y), "x10", fontfamily=SERIF, fontweight="bold", fontsize=size,
             ha="left", va="center")
    w = size * 1.389 * 1.45
    fig.text(fx(x + w + 1), fy(y - size * 0.75), e, fontfamily=SERIF, fontweight="bold",
             fontsize=size * 0.62, ha="left", va="center")

# arrows in the ephedrine panel
arrows = [((302, 118), (311, 139)), ((319, 106), (325, 129)), ((359, 116), (338, 135))]
for (x0, y0), (x1, y1) in arrows:
    fig.add_artist(FancyArrowPatch((fx(x0), fy(y0)), (fx(x1), fy(y1)), transform=fig.transFigure,
                                   arrowstyle="-|>", mutation_scale=15, lw=2.8, color="black"))

fig.savefig("out.png", dpi=100)
